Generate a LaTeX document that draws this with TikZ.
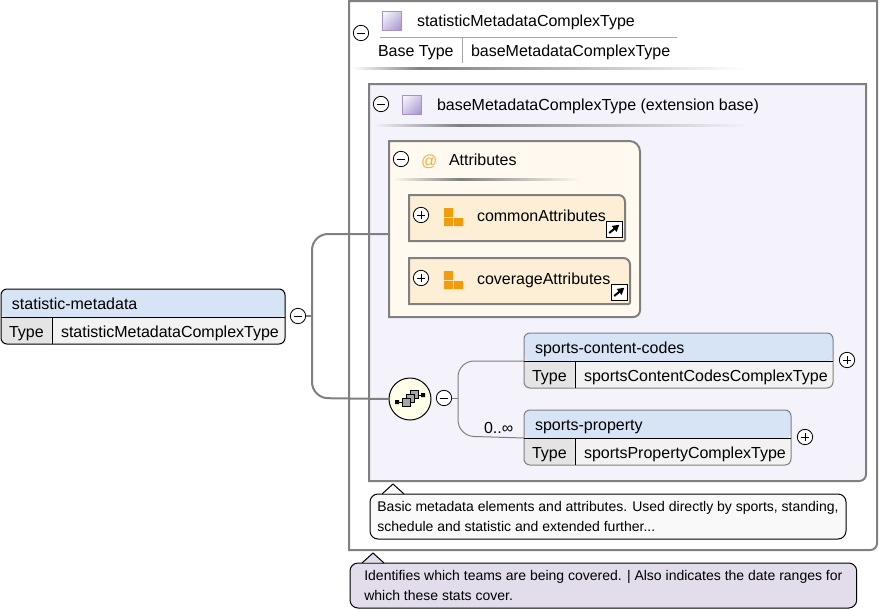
\documentclass[tikz,border=0pt]{standalone}
\usepackage{fontspec}
\setmainfont{Liberation Sans}
\usepackage{xcolor}
\usetikzlibrary{arrows.meta,shadings}
\definecolor{linegray}{HTML}{808080}
\definecolor{headblue}{HTML}{D6E4F6}
\definecolor{keygray}{HTML}{E4E4E4}
\definecolor{valgray}{HTML}{F2F2F2}
\definecolor{basefill}{HTML}{F4F2FB}
\definecolor{attrfill}{HTML}{FFF9EF}
\definecolor{groupfill}{HTML}{FDEFD5}
\definecolor{seqfill}{HTML}{FFFFE8}
\definecolor{notefill}{HTML}{F9F9F9}
\definecolor{typenote}{HTML}{E2DCEB}
\definecolor{iconpurple}{HTML}{A492CE}
\definecolor{iconorange}{HTML}{F09C0C}
\tikzset{
  lbl/.style={font=\fontsize{12pt}{14pt}\selectfont,inner sep=0pt,outer sep=0pt,anchor=base west},
  note/.style={draw=black,line width=.75pt,rounded corners=6pt,anchor=north west,align=left,inner xsep=1.5pt,
               inner ysep=0pt,outer sep=0pt,font=\fontsize{10.5pt}{15pt}\selectfont},
  elem/.style={rounded corners=4.5pt,line width=.75pt,fill=valgray,anchor=north west,inner sep=0pt,outer sep=0pt,
               minimum height=41.25pt,
               path picture={
                 \fill[headblue] (path picture bounding box.north west) rectangle ([yshift=-21pt]path picture bounding box.north east);
                 \fill[keygray] ([yshift=-21pt]path picture bounding box.north west) rectangle ([xshift=38.25pt]path picture bounding box.south west);}},
  toggle/.style={circle,draw=black,fill=white,line width=.6pt,minimum size=11.5pt,inner sep=0pt,outer sep=0pt},
  minus/.style={toggle,path picture={\draw[line width=.6pt] ([xshift=-3.2pt]path picture bounding box.center)--([xshift=3.2pt]path picture bounding box.center);}},
  plus/.style={toggle,path picture={
                 \draw[line width=.6pt] ([xshift=-3.2pt]path picture bounding box.center)--([xshift=3.2pt]path picture bounding box.center);
                 \draw[line width=.6pt] ([yshift=-3.2pt]path picture bounding box.center)--([yshift=3.2pt]path picture bounding box.center);}},
  linkbox/.style={draw=black,fill=white,line width=.75pt,minimum size=12pt,inner sep=0pt,outer sep=0pt,anchor=north west,
                  path picture={\draw[line width=1.5pt,-{Triangle[length=5pt,width=5.5pt]}] ([shift={(-3.6pt,-3pt)}]path picture bounding box.center)--([shift={(4pt,3.2pt)}]path picture bounding box.center);}},
  wire/.style={draw=linegray,line width=1.5pt,rounded corners=12pt},
  thinwire/.style={draw=linegray,line width=.75pt,rounded corners=12pt},
  seqbox/.style={draw=black,fill=linegray!70,line width=.5pt}
}
% element box with title and type row
\newcommand{\elementnode}[7]{
  \node[elem,draw=#5,minimum width=#4*.75pt] (#1) at (#2,#3) {};
  \draw[black,line width=.75pt] ([yshift=-21pt]#1.north west)--([yshift=-21pt]#1.north east);
  \draw[black,line width=.75pt] ([shift={(38.25pt,-21pt)}]#1.north west)--([xshift=38.25pt]#1.south west);
  \node[lbl] (#1title) at ([shift={(8.25pt,-15pt)}]#1.north west) {#6};
  \node[lbl] (#1key) at ([shift={(6pt,-36pt)}]#1.north west) {Type};
  \node[lbl] (#1val) at ([shift={(45pt,-36pt)}]#1.north west) {#7};
}
% box with round corners on the right side only
\newcommand{\sidebox}[8]{
  \node[anchor=north west,inner sep=0pt,outer sep=0pt,minimum width=#4*.75pt,minimum height=#5*.75pt] (#1) at (#2,#3) {};
  \draw[draw=linegray,line width=1.5pt,fill=#8] (#1.south west)--(#1.north west)[rounded corners=#6]--(#1.north east)[rounded corners=#7]--(#1.south east)[sharp corners]--cycle;
}
\newcommand{\sepline}[5]{
  \shade[left color=#5,right color=linegray] (#1,#4) rectangle (#2,#4+2);
  \shade[left color=linegray,right color=#5] (#2,#4) rectangle (#3,#4+2);
}
\newcommand{\purpleicon}[2]{
  \shade[draw=iconpurple,line width=.75pt,shading=bilinear interpolation,upper left=white,lower right=iconpurple,upper right=iconpurple!50,lower left=iconpurple!50] (#1,#2) rectangle (#1+19,#2+19);
}
\newcommand{\groupicon}[2]{
  \fill[iconorange] (#1,#2) rectangle (#1+9,#2+9) (#1,#2+10) rectangle (#1+9,#2+18) (#1+10,#2+10) rectangle (#1+19,#2+18);
}
\begin{document}
\begin{tikzpicture}[x=.75pt,y=-.75pt]
  \useasboundingbox (0,0) rectangle (879,611);
  \fill[white] (0,0) rectangle (879,611);
  % complex type frame
  \sidebox{statframe}{349}{1}{528}{549}{0pt}{5pt}{white}
  \node[minus] (statminus) at (361,33) {};
  \purpleicon{382}{11}
  \node[lbl] (stattitle) at (417,26) {statisticMetadataComplexType};
  \draw[linegray!70,line width=.75pt] (380,37)--(677,37);
  \draw[linegray!70,line width=.75pt] (462,37)--(462,63);
  \node[lbl] (basekey) at (378,56) {Base Type};
  \node[lbl] (baseval) at (471,56) {baseMetadataComplexType};
  \sepline{352}{420}{745}{67}{white}
  % base type
  \sidebox{baseframe}{369}{84}{497}{397}{0pt}{5pt}{basefill}
  \node[minus] (baseminus) at (381,104) {};
  \purpleicon{402}{95}
  \node[lbl] (basetitle) at (437,110) {baseMetadataComplexType (extension base)};
  \sepline{373}{460}{750}{124}{basefill}
  % attributes
  \sidebox{attrs}{389}{141}{251}{176}{8pt}{5pt}{attrfill}
  \node[minus] (attrminus) at (401,159) {};
  \node[lbl,text=iconorange!80] (attrat) at (421,166) {@};
  \node[lbl] (attrtitle) at (449,165) {Attributes};
  \sepline{393}{460}{580}{178}{attrfill}
  \sidebox{common}{409}{195}{216}{46}{5pt}{1pt}{groupfill}
  \node[plus] (commonplus) at (421,215) {};
  \groupicon{444}{208}
  \node[lbl] (commonlabel) at (477,221) {commonAttributes};
  \node[linkbox] (commonlink) at (606,221) {};
  \sidebox{coverage}{409}{258}{221}{46}{5pt}{1pt}{groupfill}
  \node[plus] (coverageplus) at (421,278) {};
  \groupicon{444}{271}
  \node[lbl] (coveragelabel) at (477,284) {coverageAttributes};
  \node[linkbox] (coveragelink) at (611,284) {};
  % root element
  \elementnode{root}{1}{289}{284}{black}{statistic-metadata}{statisticMetadataComplexType}
  \node[minus] (rootminus) at (298,316) {};
  % sequence
  \node[circle,draw=black,fill=seqfill,line width=.75pt,minimum size=31.5pt,inner sep=0pt,outer sep=0pt] (seq) at (410,399) {};
  \draw[black,line width=.75pt] (397,402)--(402,402) (418,395)--(423,395);
  \fill[black] (395,400) rectangle (399,404) (421,393) rectangle (425,397);
  \draw[seqbox] (410,390) rectangle (418.5,398.5);
  \draw[seqbox] (406,394) rectangle (414.5,402.5);
  \draw[seqbox] (402,398) rectangle (410.5,406.5);
  \node[minus] (seqminus) at (444,398) {};
  \elementnode{codes}{524}{333}{309}{linegray}{sports-content-codes}{sportsContentCodesComplexType}
  \node[plus] (codesplus) at (847,360) {};
  \elementnode{prop}{524}{410}{267}{linegray}{sports-property}{sportsPropertyComplexType}
  \node[plus] (propplus) at (805,437) {};
  \node[lbl] (propcount) at (484,433) {0..∞};
  % connectors
  \draw[wire] (rootminus.east)--(312,316);
  \draw[wire] ([yshift=-3.75pt]attrs.west)--(312,234)--(312,398)--(seq.west);
  \draw[thinwire] (seqminus.east)--(458,398);
  \draw[thinwire] ([yshift=-21pt]codes.north west)--(458,361)--(458,436)--([yshift=-21pt]prop.north west);
  % notes
  \node[note,fill=notefill,minimum width=357pt,minimum height=33.75pt] (basenote) at (370,494)
    {Basic metadata elements and attributes. Used directly by sports, standing,\\schedule and statistic and extended further...};
  \fill[notefill] ([xshift=9pt,yshift=.4pt]basenote.north west)--++(8.25pt,7.5pt)--++(8.25pt,-7.5pt)--cycle;
  \draw[black,line width=.75pt] ([xshift=9pt]basenote.north west)--++(8.25pt,7.5pt)--++(8.25pt,-7.5pt);
  \node[note,fill=typenote,minimum width=380pt,minimum height=33.75pt] (statnote) at (350,563)
    {Identifies which teams are being covered. | Also indicates the date ranges for\\which these stats cover.};
  \fill[typenote] ([xshift=9pt,yshift=.4pt]statnote.north west)--++(8.25pt,7.5pt)--++(8.25pt,-7.5pt)--cycle;
  \draw[black,line width=.75pt] ([xshift=9pt]statnote.north west)--++(8.25pt,7.5pt)--++(8.25pt,-7.5pt);
\end{tikzpicture}
\end{document}
